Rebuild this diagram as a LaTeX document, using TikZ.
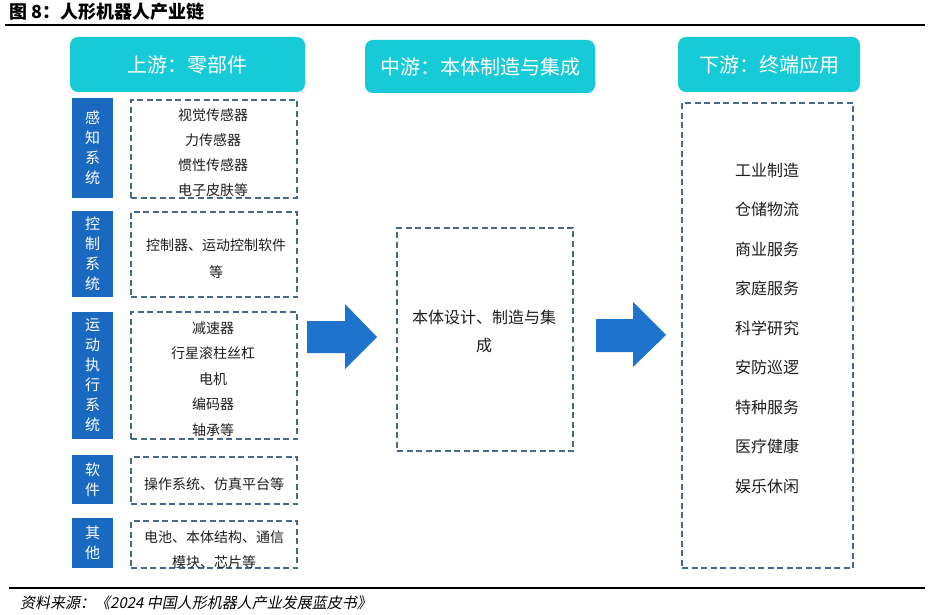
\documentclass[tikz,border=0pt]{standalone}
\usepackage{fontspec}
\setmainfont{Noto Sans CJK SC}
\newfontfamily\cjkit[FakeSlant=0.2]{Noto Sans CJK SC}
\definecolor{hdrc}{RGB}{22,202,215}
\definecolor{catc}{RGB}{26,105,192}
\definecolor{arrc}{RGB}{30,115,205}
\definecolor{dashc}{RGB}{70,105,140}
\definecolor{txtc}{RGB}{30,30,30}
\tikzset{
  hdr/.style={fill=hdrc, rounded corners=8pt, text=white, inner sep=0pt,
    font=\fontsize{20}{24}\selectfont},
  cat/.style={fill=catc, text=white, inner sep=0pt, minimum width=41pt, align=center,
    font=\fontsize{15}{20}\selectfont},
  dbox/.style={draw=dashc, line width=1.4pt, dash pattern=on 6pt off 3.5pt, inner sep=0pt},
  itemtxt/.style={text=txtc, align=center, inner sep=0pt},
  bigarrow/.style={fill=arrc}
}
\begin{document}
\begin{tikzpicture}[x=1pt,y=-1pt]
\path[use as bounding box, fill=white] (0,0) rectangle (930,615);
% title and rules
\node[anchor=west, font=\bfseries\fontsize{18}{20}\selectfont, inner sep=0pt] (title) at (9,12) {图 8：人形机器人产业链};
\draw[line width=2.5pt] (5,25) -- (925,25);
\draw[line width=2pt] (9,588) -- (925,588);
\node[anchor=west, font=\cjkit\fontsize{15}{17}\selectfont, inner sep=0pt] (src) at (20,603) {资料来源：《2024 中国人形机器人产业发展蓝皮书》};
% headers
\node[hdr, minimum width=235pt, minimum height=55pt] (h1) at (187.5,64.5) {上游：零部件};
\node[hdr, minimum width=230pt, minimum height=53pt] (h2) at (480,66.5) {中游：本体制造与集成};
\node[hdr, minimum width=182pt, minimum height=55pt] (h3) at (769,64.5) {下游：终端应用};
% category boxes
\node[cat, minimum height=100pt] (c1) at (92.5,148) {感\\知\\系\\统};
\node[cat, minimum height=86pt] (c2) at (92.5,254) {控\\制\\系\\统};
\node[cat, minimum height=127pt] (c3) at (92.5,375.5) {运\\动\\执\\行\\系\\统};
\node[cat, minimum height=49pt] (c4) at (92.5,479.5) {软\\件};
\node[cat, minimum height=50pt] (c5) at (92.5,543) {其\\他};
% dashed boxes
\node[dbox, minimum width=166pt, minimum height=98pt] (d1) at (214,149) {};
\node[dbox, minimum width=166pt, minimum height=85pt] (d2) at (214,254.5) {};
\node[dbox, minimum width=166pt, minimum height=127pt] (d3) at (214,375.5) {};
\node[dbox, minimum width=166pt, minimum height=47pt] (d4) at (214,480.5) {};
\node[dbox, minimum width=166pt, minimum height=47pt] (d5) at (214,544.5) {};
\node[dbox, minimum width=176pt, minimum height=223pt] (dm) at (485,339.5) {};
\node[dbox, minimum width=171pt, minimum height=465pt] (dr) at (767.5,335.5) {};
% texts
\node[itemtxt, font=\fontsize{14}{25}\selectfont] (t1) at (213,152.5) {视觉传感器\\力传感器\\惯性传感器\\电子皮肤等};
\node[itemtxt, font=\fontsize{14}{27}\selectfont] (t2) at (216,258.5) {控制器、运动控制软件\\等};
\node[itemtxt, font=\fontsize{14}{25.5}\selectfont] (t3) at (213,379) {减速器\\行星滚柱丝杠\\电机\\编码器\\轴承等};
\node[itemtxt, font=\fontsize{14}{16}\selectfont] (t4) at (214,484) {操作系统、仿真平台等};
\node[itemtxt, font=\fontsize{14}{25}\selectfont] (t5) at (214,549.5) {电池、本体结构、通信\\模块、芯片等};
\node[itemtxt, font=\fontsize{16}{28}\selectfont] (tm) at (484,331) {本体设计、制造与集\\成};
\node[itemtxt, font=\fontsize{16}{39.5}\selectfont] (tr) at (767,328) {工业制造\\仓储物流\\商业服务\\家庭服务\\科学研究\\安防巡逻\\特种服务\\医疗健康\\娱乐休闲};
% big arrows
\fill[bigarrow] (307,321) -- (345,321) -- (345,304) -- (377,337) -- (345,369) -- (345,353) -- (307,353) -- cycle;
\fill[bigarrow] (596,319) -- (633,319) -- (633,302) -- (666,335) -- (633,367) -- (633,352) -- (596,352) -- cycle;
\end{tikzpicture}
\end{document}
